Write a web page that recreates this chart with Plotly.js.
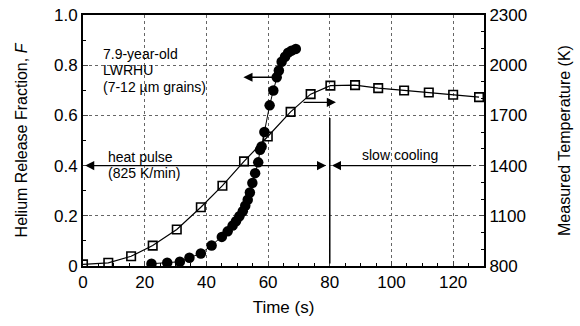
<!DOCTYPE html>
<html><head><meta charset="utf-8">
<script src="https://cdn.plot.ly/plotly-3.0.1.min.js"></script>
<style>body{margin:0;background:#fff}#c{width:580px;height:326px}</style>
</head><body><div id="c"></div>
<script>
// Measured temperature (squares, right axis)
var tempTime = [0, 8.2, 15.6, 22.6, 30.4, 38.2, 45.2, 52.2, 59.9, 67.3, 73.8, 80.2, 88.2, 95.7, 104.1, 112.1, 120, 128.4];
var tempK    = [810, 819, 858, 922, 1018, 1151, 1280, 1425, 1574, 1721, 1827, 1878, 1881, 1863, 1849, 1837, 1823, 1809];
// Helium release fraction (filled circles, left axis)
var relTime = [22.2, 27.3, 31.4, 34.5, 38.2, 41.7, 45, 46.9, 48.5, 49.6, 50.7, 51.8, 52.6, 53.4, 54.1, 54.9, 55.8, 56.8, 57.4, 57.9, 58.8, 60.5, 61.7, 62.8, 63.5, 64.4, 65.5, 66.5, 67.6, 69];
var relF    = [0.009, 0.013, 0.017, 0.033, 0.05, 0.082, 0.116, 0.138, 0.161, 0.178, 0.198, 0.218, 0.24, 0.264, 0.293, 0.331, 0.37, 0.413, 0.463, 0.476, 0.534, 0.64, 0.699, 0.752, 0.779, 0.814, 0.834, 0.85, 0.858, 0.865];
var xTicks = [0, 20, 40, 60, 80, 100, 120];
var yTicks = [0, 0.2, 0.4, 0.6, 0.8, 1.0];
var yTickText = ['0', '0.2', '0.4', '0.6', '0.8', '1.0'];
var y2Ticks = [800, 1100, 1400, 1700, 2000, 2300];
var sampleLines = ['7.9-year-old', 'LWRHU', '(7-12 µm grains)'];
var pulseLines = ['heat pulse', '(825 K/min)'];

var font = 'Liberation Sans, Arial, sans-serif';
var traces = [
  {x: relTime, y: relF, mode: 'lines+markers', yaxis: 'y',
   line: {color: '#000', width: 1},
   marker: {symbol: 'circle', size: 10.5, color: '#000'}, showlegend: false},
  {x: tempTime, y: tempK, mode: 'lines+markers', yaxis: 'y2',
   line: {color: '#000', width: 1.2},
   marker: {symbol: 'square-open', size: 8.5, color: '#000', line: {width: 1.6, color: '#000'}}, showlegend: false}
];
var arr = {xref: 'x', yref: 'y', axref: 'x', ayref: 'y', text: '', showarrow: true,
           arrowhead: 2, arrowsize: 1.3, arrowwidth: 1.4, arrowcolor: '#000'};
function A(o){ return Object.assign({}, arr, o); }
function T(x, y, txt, anchor){
  return {x: x, y: y, xref: 'x', yref: 'y', xanchor: anchor || 'left', yanchor: 'middle', showarrow: false,
          text: txt, font: {size: 14}, borderpad: 0};
}
var gridStyle = {showgrid: true, gridcolor: '#666', griddash: 'dot', gridwidth: 1, zeroline: false};
var layout = {
  width: 580, height: 326,
  margin: {l: 83, r: 96, t: 15, b: 60},
  paper_bgcolor: '#fff', plot_bgcolor: '#fff',
  font: {family: font, size: 17, color: '#000'},
  xaxis: Object.assign({range: [0, 130], tickvals: xTicks, ticks: 'inside', ticklen: 5, tickwidth: 1,
          showline: true, linewidth: 2, linecolor: '#000', mirror: true,
          minor: {dtick: 5, ticks: 'inside', ticklen: 3, tickcolor: '#000', showgrid: false},
          title: {text: 'Time (s)', font: {size: 17}, standoff: 10}}, gridStyle),
  yaxis: Object.assign({range: [0, 1.0], tickvals: yTicks, ticktext: yTickText, ticks: 'inside', ticklen: 5,
          showline: true, linewidth: 2, linecolor: '#000',
          minor: {dtick: 0.1, ticks: 'inside', ticklen: 3, tickcolor: '#000', showgrid: false},
          title: {text: 'Helium Release Fraction, <i>F</i>', font: {size: 16}, standoff: 22}}, gridStyle),
  yaxis2: {range: [800, 2300], tickvals: y2Ticks, overlaying: 'y', side: 'right', ticks: 'inside', ticklen: 5,
          showline: true, linewidth: 2, linecolor: '#000', showgrid: false, zeroline: false,
          minor: {dtick: 100, ticks: 'inside', ticklen: 3, tickcolor: '#000', showgrid: false},
          title: {text: 'Measured Temperature (K)', font: {size: 16}, standoff: 33}},
  shapes: [
    {type: 'line', xref: 'x', yref: 'y', x0: 80, x1: 80, y0: 0.01, y1: 0.59, line: {color: '#000', width: 1.5}}
  ],
  annotations: [
    A({x: 52, y: 0.752, ax: 62.5, ay: 0.752}),
    A({x: 82, y: 0.652, ax: 71, ay: 0.652}),
    A({x: 0.7, y: 0.4, ax: 79.3, ay: 0.4, arrowside: 'end+start'}),
    A({x: 80.7, y: 0.4, ax: 126.3, ay: 0.4}),
    T(6.0, 0.843, sampleLines[0]),
    T(6.0, 0.779, sampleLines[1]),
    T(6.0, 0.715, sampleLines[2]),
    T(7.7, 0.436, pulseLines[0]),
    T(7.7, 0.369, pulseLines[1]),
    T(102.8, 0.444, 'slow cooling', 'center')
  ]
};
Plotly.newPlot('c', traces, layout, {displayModeBar: false, staticPlot: true});
</script></body></html>
